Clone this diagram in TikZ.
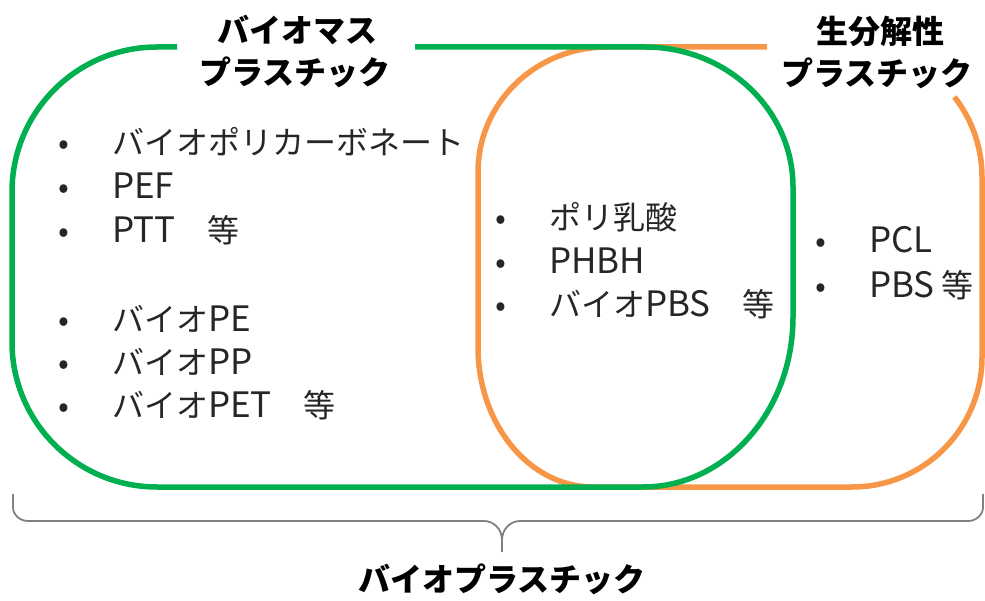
\documentclass[tikz,border=0pt]{standalone}
\usepackage{fontspec}
\setmainfont{Noto Sans CJK JP}
\definecolor{bmgreen}{RGB}{0,176,80}
\definecolor{bdorange}{RGB}{247,150,70}
\newcommand{\lat}[1]{{\fontsize{35}{40}\selectfont #1}}
\newcommand{\bul}{\makebox[54pt][l]{•}}

\begin{document}
\begin{tikzpicture}[x=1pt,y=1pt,
    greenline/.style={draw=bmgreen,line width=5.5pt},
    orangeline/.style={draw=bdorange,line width=5.5pt},
    braceline/.style={draw=black!50,line width=1.8pt},
    title/.style={anchor=base,inner sep=0pt,font=\fontsize{32}{40}\selectfont\bfseries},
    item/.style={anchor=base west,inner sep=0pt,text=black!85,font=\fontsize{32}{40}\selectfont}]
    \useasboundingbox (0,0) rectangle (985,600);

    \draw[orangeline] (767,553) -- (607,553) arc[start angle=90,end angle=180,x radius=129,y radius=125]
        -- (478,253) arc[start angle=180,end angle=270,x radius=115,y radius=140]
        -- (852,113) arc[start angle=270,end angle=360,radius=130]
        -- (982,423) arc[start angle=0,end angle=38,radius=130];
    \draw[greenline] (177,553) -- (157,553) arc[start angle=90,end angle=180,radius=145]
        -- (12,258) arc[start angle=180,end angle=270,radius=145]
        -- (643,113) arc[start angle=270,end angle=360,x radius=150,y radius=170]
        -- (793,413) arc[start angle=0,end angle=90,x radius=148,y radius=140]
        -- (415,553);

    \node[title] (bm1) at (297,557) {バイオマス};
    \node[title] (bm2) at (295,515) {プラスチック};
    \node[title] (bd1) at (880,556) {生分解性};
    \node[title] (bd2) at (877,514) {プラスチック};

    \node[item] (g1) at (58,445) {\bul バイオポリカーボネート};
    \node[item] (g2) at (58,401) {\bul \lat{PEF}};
    \node[item] (g3) at (58,357) {\bul \lat{PTT}　等};
    \node[item] (g4) at (58,268) {\bul バイオ\lat{PE}};
    \node[item] (g5) at (58,225) {\bul バイオ\lat{PP}};
    \node[item] (g6) at (58,182) {\bul バイオ\lat{PET}　等};

    \node[item] (m1) at (495,370) {\bul ポリ乳酸};
    \node[item] (m2) at (495,326) {\bul \lat{PHBH}};
    \node[item] (m3) at (495,283) {\bul バイオ\lat{PBS}　等};

    \node[item] (r1) at (815,347) {\bul \lat{PCL}};
    \node[item] (r2) at (815,302) {\bul \lat{PBS} 等};

    \coordinate (bl) at (13,106);
    \coordinate (br) at (983,106);
    \coordinate (tip) at (502,48);
    \draw[braceline] (bl) -- (13,93) to[out=-90,in=180] (28,79) -- (484,79)
        to[out=0,in=90] (502,60) -- (tip);
    \draw[braceline] (br) -- (983,93) to[out=-90,in=0] (968,79) -- (520,79)
        to[out=180,in=90] (502,60);

    \node[title] (bp) at (tip |- 0,9) {バイオプラスチック};
\end{tikzpicture}
\end{document}
